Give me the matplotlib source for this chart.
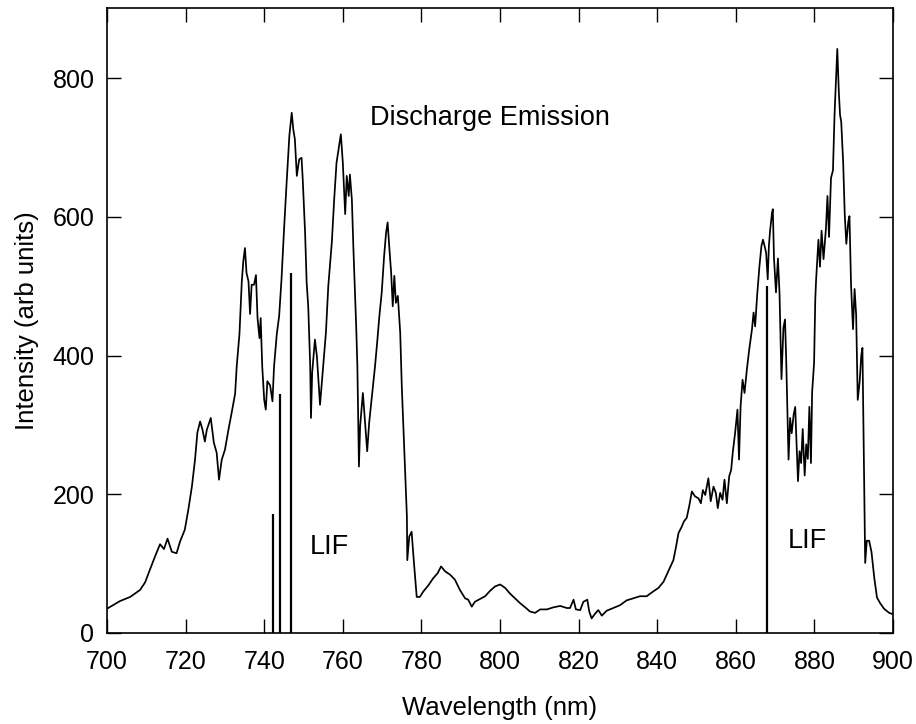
import matplotlib
matplotlib.use('Agg')
import matplotlib.pyplot as plt

plt.rcParams['font.family'] = ['Liberation Sans', 'DejaVu Sans']

# emission spectrum (nm, arb units)
wavelength = [
    700.0, 703.3, 705.9, 708.4, 709.7, 710.9, 712.2, 713.5, 714.5, 715.4,
    716.5, 717.7, 718.6, 719.8, 720.7, 721.6, 722.4, 723.0, 723.7, 724.3,
    724.9, 725.4, 726.4, 727.2, 727.9, 728.5, 729.2, 730.0, 730.9, 731.7,
    732.6, 733.0, 733.7, 734.3, 734.7, 735.1, 735.5, 736.0, 736.4, 736.8,
    737.4, 737.9, 738.3, 738.8, 739.1, 739.5, 740.0, 740.4, 740.8, 741.5,
    742.1, 742.5, 743.2, 743.8, 744.4, 745.0, 745.7, 746.4, 747.0, 747.4,
    747.8, 748.3, 748.9, 749.5, 749.8, 750.4, 750.8, 751.2, 751.7, 751.9,
    752.2, 752.9, 753.4, 754.2, 755.0, 755.7, 756.3, 757.2, 757.8, 758.4,
    758.9, 759.5, 760.0, 760.6, 761.0, 761.5, 761.8, 762.3, 762.7, 763.1,
    763.4, 763.7, 764.1, 764.4, 765.1, 765.6, 766.2, 766.7, 767.4, 768.2,
    768.8, 769.3, 769.9, 770.5, 771.0, 771.4, 771.8, 772.3, 772.7, 773.1,
    773.5, 774.0, 774.6, 775.0, 775.4, 775.8, 776.3, 776.4, 776.9, 777.5,
    778.1, 778.8, 779.6, 780.5, 781.8, 783.0, 784.1, 785.0, 786.0, 787.3,
    788.5, 789.8, 791.1, 791.9, 792.8, 793.6, 794.9, 796.2, 797.5, 798.7,
    800.0, 801.3, 802.5, 803.8, 805.1, 806.4, 807.6, 808.9, 810.2, 811.9,
    813.6, 815.3, 817.0, 817.8, 818.7, 819.3, 820.4, 821.2, 822.2, 822.7,
    823.3, 824.2, 825.0, 825.9, 827.1, 828.8, 830.5, 832.2, 833.9, 835.6,
    837.3, 839.0, 840.3, 841.6, 842.4, 843.1, 844.1, 844.8, 845.4, 846.2,
    846.8, 847.5, 848.2, 848.8, 849.6, 850.5, 851.1, 851.6, 852.2, 853.0,
    853.6, 854.3, 854.9, 855.4, 856.0, 856.6, 857.1, 857.7, 858.3, 858.8,
    859.2, 859.8, 860.4, 860.8, 861.2, 861.7, 862.2, 862.8, 863.4, 864.1,
    864.5, 864.9, 865.4, 866.0, 866.5, 866.9, 867.3, 867.7, 868.1, 868.4,
    868.7, 869.2, 869.4, 869.7, 870.2, 870.7, 871.1, 871.6, 872.1, 872.5,
    872.8, 873.2, 873.4, 873.8, 874.2, 874.7, 875.1, 875.3, 875.8, 876.2,
    876.6, 877.0, 877.5, 877.9, 878.3, 878.7, 879.1, 879.4, 879.9, 880.2,
    880.4, 881.0, 881.4, 881.8, 882.3, 882.9, 883.3, 883.7, 884.2, 884.7,
    885.1, 885.6, 885.8, 886.2, 886.5, 886.8, 887.3, 887.7, 888.1, 888.6,
    888.9, 889.3, 889.8, 890.2, 890.6, 891.0, 891.5, 891.9, 892.2, 892.6,
    892.9, 893.3, 893.9, 894.5, 895.2, 895.9, 896.7, 897.7, 899.0, 900.0,
]
intensity = [
    35, 46, 52, 62, 73, 91, 110, 128, 121, 136,
    117, 115, 132, 149, 178, 211, 250, 289, 305, 293,
    276, 293, 310, 274, 260, 221, 250, 264, 293, 317,
    345, 384, 431, 507, 537, 555, 519, 507, 460, 502,
    502, 516, 454, 425, 454, 384, 336, 322, 363, 357,
    334, 384, 431, 457, 510, 577, 649, 717, 750, 726,
    712, 659, 683, 685, 654, 577, 505, 471, 385, 310,
    375, 423, 399, 329, 385, 433, 500, 563, 625, 678,
    697, 719, 678, 604, 659, 630, 661, 625, 553, 491,
    442, 385, 240, 298, 346, 308, 262, 303, 341, 385,
    423, 457, 491, 543, 577, 592, 558, 519, 471, 515,
    476, 486, 433, 356, 298, 240, 168, 105, 139, 146,
    101, 52, 52, 60, 69, 79, 86, 96, 89, 84,
    77, 62, 50, 48, 38, 45, 49, 53, 61, 67,
    70, 65, 57, 50, 43, 37, 31, 29, 34, 34,
    37, 39, 36, 36, 48, 34, 33, 45, 48, 31,
    21, 28, 33, 25, 32, 36, 40, 47, 50, 53,
    53, 60, 65, 74, 84, 93, 105, 125, 144, 153,
    161, 166, 185, 204, 197, 194, 187, 206, 199, 223,
    190, 211, 202, 180, 202, 192, 221, 187, 226, 235,
    260, 288, 322, 250, 327, 365, 346, 380, 409, 438,
    462, 442, 486, 529, 558, 567, 558, 548, 510, 558,
    580, 606, 611, 540, 491, 540, 490, 366, 440, 452,
    395, 300, 250, 310, 288, 315, 326, 294, 219, 262,
    245, 294, 227, 272, 251, 326, 245, 347, 390, 481,
    508, 567, 528, 580, 539, 582, 630, 571, 656, 667,
    747, 817, 842, 779, 747, 737, 678, 603, 561, 593,
    601, 502, 438, 496, 459, 336, 363, 400, 411, 240,
    101, 133, 133, 117, 80, 51, 43, 35, 29, 27,
]

# laser induced fluorescence lines
lif_wl = [742.2, 744.1, 746.7, 867.8]
lif_height = [172, 345, 519, 500]

fig = plt.figure(figsize=(9.16, 7.24), dpi=100)
ax = fig.add_axes([0.1168, 0.1257, 0.8582, 0.8632])

ax.plot(wavelength, intensity, color='black', linewidth=1.25)
ax.vlines(lif_wl, 0, lif_height, color='black', linewidth=1.6)

ax.set_xlim(700, 900)
ax.set_ylim(0, 901)
ax.set_xticks(range(700, 901, 20))
ax.set_yticks(range(0, 801, 200))

ax.tick_params(direction='in', top=True, right=True, length=10, width=1.0,
               labelsize=18)
ax.tick_params(axis='x', pad=12)
ax.tick_params(axis='y', pad=9)
for s in ax.spines.values():
    s.set_linewidth(1.2)

ax.set_xlabel('Wavelength (nm)', fontsize=18.5, labelpad=16)
ax.set_ylabel('Intensity (arb units)', fontsize=18.5, labelpad=10)

ax.text(767, 742, 'Discharge Emission', fontsize=19.5, va='center', ha='left')
ax.text(751.5, 124, 'LIF', fontsize=19.5, va='center', ha='left')
ax.text(873.2, 133, 'LIF', fontsize=19.5, va='center', ha='left')

fig.savefig('out.png', dpi=100)
